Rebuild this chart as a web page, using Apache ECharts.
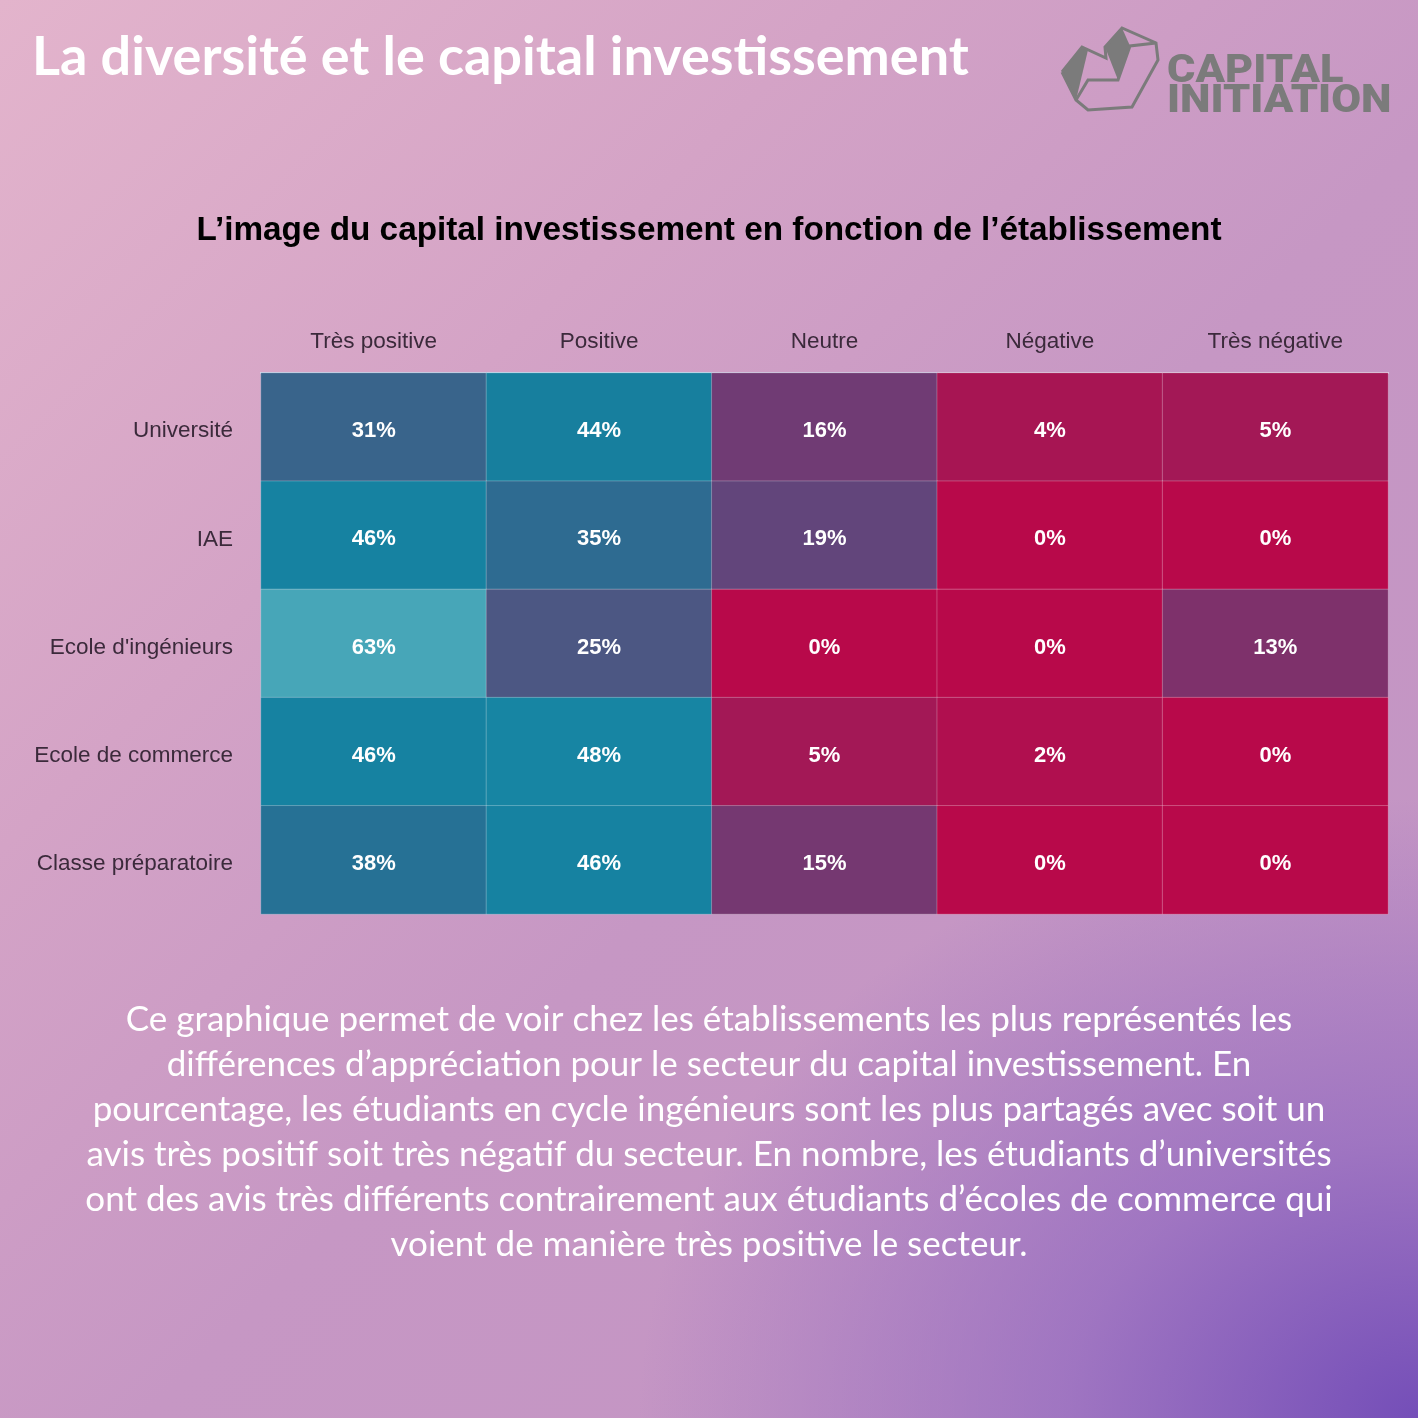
<!DOCTYPE html>
<html><head><meta charset="utf-8">
<script src="https://cdn.jsdelivr.net/npm/echarts@6/dist/echarts.min.js"></script>
<style>
html,body{margin:0;padding:0;width:1418px;height:1418px;overflow:hidden;}
body{background:
 radial-gradient(ellipse 780px 620px at 100% 100%, rgba(116,78,184,1) 0%, rgba(140,100,192,0.65) 45%, rgba(196,150,200,0) 100%),
 linear-gradient(135deg, #e3b4cc 0%, #d4a3c6 30%, #c697c4 55%, #c294c4 100%);}
#c{width:1418px;height:1418px;}
</style></head>
<body><div id="c"></div>
<script>
const rows = ['Université','IAE',"Ecole d'ingénieurs",'Ecole de commerce','Classe préparatoire'];
const cols = ['Très positive','Positive','Neutre','Négative','Très négative'];
const univ = [31,44,16,4,5];
const iae = [46,35,19,0,0];
const ingenieurs = [63,25,0,0,13];
const commerce = [46,48,5,2,0];
const prepa = [38,46,15,0,0];
const bodyLines = [
 "Ce graphique permet de voir chez les établissements les plus représentés les",
 "différences d’appréciation pour le secteur du capital investissement. En",
 "pourcentage, les étudiants en cycle ingénieurs sont les plus partagés avec soit un",
 "avis très positif soit très négatif du secteur. En nombre, les étudiants d’universités",
 "ont des avis très différents contrairement aux étudiants d’écoles de commerce qui",
 "voient de manière très positive le secteur."
];

const table = [univ, iae, ingenieurs, commerce, prepa];
const data = [];
table.forEach((r, yi) => r.forEach((v, xi) => data.push([xi, yi, v])));

const chart = echarts.init(document.getElementById('c'), null, {renderer:'canvas'});
const graphics = [];
bodyLines.forEach((t,i)=>{
  graphics.push({type:'text', left:'center', top:1002 + i*45,
    style:{text:t, fill:'#ffffff', font:'35px Lato, "Open Sans", sans-serif', textAlign:'center'}});
});
// logo
graphics.push({type:'text', x:1167, y:53, scaleX:1.14, style:{text:'CAPITAL', fill:'#7b7b7b', font:'900 38px Roboto, sans-serif'}});
graphics.push({type:'text', x:1167, y:83, scaleX:1.14, style:{text:'INITIATION', fill:'#7b7b7b', font:'900 38px Roboto, sans-serif'}});
graphics.push({type:'polygon', shape:{points:[[1062,72],[1082,47],[1088,50],[1076,100]]}, style:{fill:'#7b7b7b'}});
graphics.push({type:'polygon', shape:{points:[[1105,47],[1122,28],[1130,46],[1118,80]]}, style:{fill:'#7b7b7b'}});
graphics.push({type:'polyline', shape:{points:[[1062,72],[1082,47],[1106,58],[1105,47],[1122,28],[1156,43],[1158,60],[1132,107],[1088,110],[1076,100],[1062,72]]}, style:{stroke:'#7b7b7b', lineWidth:3, fill:null}});
graphics.push({type:'polyline', shape:{points:[[1076,100],[1088,80],[1118,80],[1130,46],[1156,43]]}, style:{stroke:'#7b7b7b', lineWidth:3, fill:null}});

const axisFont = '"Liberation Sans", Arial, sans-serif';
chart.setOption({
  backgroundColor:'transparent',
  title:[
    {text:'La diversité et le capital investissement', left:27, top:26,
     textStyle:{color:'#ffffff', fontSize:54, fontWeight:'bold', fontFamily:'Lato, "Open Sans", sans-serif'}},
    {text:'L’image du capital investissement en fonction de l’établissement', left:'center', top:209,
     textStyle:{color:'#000000', fontSize:33.3, fontWeight:'bold', fontFamily:axisFont}}
  ],
  grid:{left:261, right:30, top:373, bottom:504},
  xAxis:{type:'category', data:cols, position:'top',
    axisLine:{show:true, lineStyle:{color:'#dfe0f4', width:2}}, axisTick:{show:false},
    axisLabel:{color:'#3b2a3b', fontSize:22.5, fontFamily:axisFont, margin:20},
    splitArea:{show:false}},
  yAxis:{type:'category', data:rows, inverse:true,
    axisLine:{show:false}, axisTick:{show:false},
    axisLabel:{margin:28, formatter:v=>'{a|'+v+'}',
      rich:{a:{color:'#3b2a3b', fontSize:22.5, fontFamily:axisFont, padding:[8,0,0,0]}}}},
  visualMap:{show:false, min:0, max:63, calculable:false,
    inRange:{color:['#b8094a','#92245f','#66427a','#445d86','#2b6d92','#1581a0','#1a8ea9','#47a6b8']}},
  series:[{type:'heatmap', data:data,
    itemStyle:{borderColor:'rgba(255,255,255,0.25)', borderWidth:1},
    label:{show:true, formatter:p=>p.value[2]+'%', color:'#ffffff', fontSize:22, fontWeight:'bold', fontFamily:axisFont, offset:[0,4]},
    emphasis:{disabled:true}}],
  graphic:graphics
});
</script></body></html>
